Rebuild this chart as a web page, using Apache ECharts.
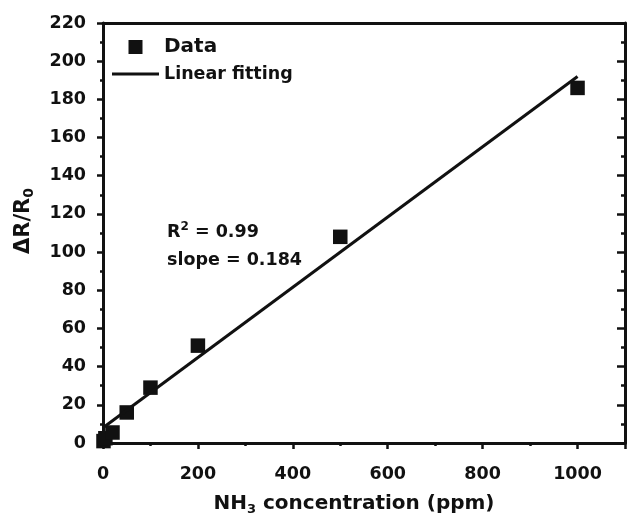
<!DOCTYPE html>
<html><head><meta charset="utf-8">
<script src="https://cdn.jsdelivr.net/npm/echarts@6/dist/echarts.min.js"></script>
<style>html,body{margin:0;padding:0;background:#fff}#c{width:627px;height:518px}</style>
</head><body><div id="c"></div>
<script>
// Data
const concentration = [1, 5, 20, 50, 100, 200, 500, 1000];
const response = [1, 2.5, 5.5, 16, 29, 51, 108, 186];
const fitX = [0, 1000];
const fitY = [8, 192];
const seriesNames = ['Data', 'Linear fitting'];
const annotation = ['R{sup|2} = 0.99', 'slope = 0.184'];

const FONT = 'DejaVu Sans';
const INK = '#111';
const chart = echarts.init(document.getElementById('c'), null, {renderer: 'canvas'});

const scatterData = concentration.map((x, i) => [x, response[i]]);
const fitData = fitX.map((x, i) => [x, fitY[i]]);

const axisLine = {show: true, onZero: false, lineStyle: {color: INK, width: 3}};
const tickStyle = {color: INK, width: 2.5};

chart.setOption({
  animation: false,
  backgroundColor: '#fff',
  grid: {left: 103, right: 2, top: 23, bottom: 75, containLabel: false, outerBoundsMode: 'none'},
  legend: {
    orient: 'vertical', left: 107, top: 32,
    itemWidth: 47, itemHeight: 14, itemGap: 8,
    symbolKeepAspect: true,
    textStyle: {fontFamily: FONT, fontWeight: 'bold', color: INK, fontSize: 17.5},
    data: [
      {name: seriesNames[0], icon: 'path://M0,0H10V10H0Z', textStyle: {fontSize: 20}},
      {name: seriesNames[1], icon: 'path://M0,0H47V3H0Z', textStyle: {fontSize: 17.5}}
    ]
  },
  xAxis: [{
    type: 'value', min: 0, max: 1100, interval: 200, position: 'bottom',
    name: '{n|NH}{s|3}{n| concentration (ppm)}', nameLocation: 'middle', nameGap: 49,
    nameTextStyle: {padding: [0, 20, 0, 0], rich: {
      n: {fontFamily: FONT, fontWeight: 'bold', fontSize: 20, color: INK, lineHeight: 24},
      s: {fontFamily: FONT, fontWeight: 'bold', fontSize: 13, color: INK, lineHeight: 12, verticalAlign: 'bottom'}
    }},
    axisLine: axisLine,
    axisTick: {show: true, inside: false, length: 6, lineStyle: tickStyle},
    minorTick: {show: true, splitNumber: 2, length: 3, lineStyle: tickStyle},
    splitLine: {show: false},
    axisLabel: {show: true, margin: 22, showMaxLabel: false, formatter: v => String(v),
      fontFamily: FONT, fontWeight: 'bold', fontSize: 17.5, color: INK}
  }, {
    type: 'value', min: 0, max: 1100, interval: 200, position: 'top',
    axisLine: axisLine, axisTick: {show: false}, axisLabel: {show: false}, splitLine: {show: false}
  }],
  yAxis: [{
    type: 'value', min: 0, max: 220, interval: 20, position: 'left',
    name: '{n|ΔR/R}{s|0}', nameLocation: 'middle', nameGap: 67,
    nameTextStyle: {padding: [0, 0, 0, 24], rich: {
      n: {fontFamily: FONT, fontWeight: 'bold', fontSize: 21, color: INK, lineHeight: 25},
      s: {fontFamily: FONT, fontWeight: 'bold', fontSize: 14, color: INK, lineHeight: 13, verticalAlign: 'bottom'}
    }},
    axisLine: axisLine,
    axisTick: {show: true, inside: false, length: 6, lineStyle: tickStyle},
    minorTick: {show: true, splitNumber: 2, length: 3, lineStyle: tickStyle},
    splitLine: {show: false},
    axisLabel: {show: true, margin: 17, formatter: v => String(v),
      fontFamily: FONT, fontWeight: 'bold', fontSize: 17.5, color: INK}
  }, {
    type: 'value', min: 0, max: 220, interval: 20, position: 'right',
    axisLine: axisLine,
    axisTick: {show: true, inside: true, length: 8, lineStyle: tickStyle},
    minorTick: {show: true, splitNumber: 2, length: 4, lineStyle: tickStyle},
    axisLabel: {show: false}, splitLine: {show: false}
  }],
  graphic: [{
    type: 'text', left: 167, top: 218, z: 10,
    style: {
      text: annotation.join('\n'),
      fontFamily: FONT, fontWeight: 'bold', fontSize: 17.5, fill: INK, lineHeight: 28,
      rich: {
        sup: {fontFamily: FONT, fontWeight: 'bold', fontSize: 12, fill: INK, lineHeight: 12, padding: [0, 0, 10, 0]}
      }
    }
  }],
  series: [{
    name: seriesNames[0], type: 'scatter', xAxisIndex: 0, yAxisIndex: 0,
    symbol: 'rect', symbolSize: 14.5,
    itemStyle: {color: INK, opacity: 1},
    data: scatterData, z: 3
  }, {
    name: seriesNames[1], type: 'line', xAxisIndex: 0, yAxisIndex: 0,
    symbol: 'none', showSymbol: false,
    lineStyle: {color: INK, width: 3},
    itemStyle: {color: INK},
    data: fitData, z: 4
  }]
});
</script></body></html>
